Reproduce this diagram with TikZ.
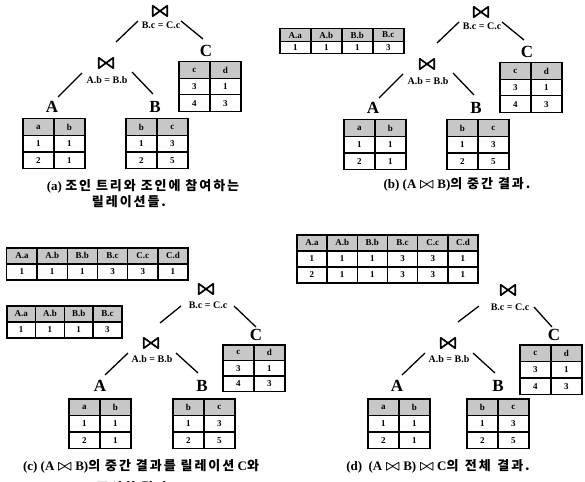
\documentclass[tikz,border=0pt]{standalone}
\usepackage{fontspec}
\setmainfont{Liberation Serif}
\newfontfamily\kr[LetterSpace=15]{Noto Sans CJK KR}
\usetikzlibrary{matrix}

\definecolor{hdr}{gray}{0.78}
% inline join symbol for the captions
\newcommand\jsym{\scalebox{1.25}{\boldmath$\bowtie$}}
% join operator drawn as a bow tie inside a named node
\newcommand\jnode[2]{%
  \node[jn] (#1) at (#2) {};
  \draw[btline] (#1.north west) -- (#1.south west) -- (#1.north east)
    -- (#1.south east) -- cycle;}

\tikzset{
  cell/.style={draw, line width=1.3pt, inner sep=0pt, anchor=center,
    font=\fontsize{9}{10}\selectfont\bfseries},
  reltab/.style 2 args={matrix of nodes, inner sep=0pt, anchor=north west,
    column sep=-1.3pt, row sep=-1.3pt,
    nodes={cell, minimum width=#1, minimum height=#2},
    row 1/.style={nodes={fill=hdr}}},
  jn/.style={inner sep=0pt, minimum width=14pt, minimum height=10pt},
  btline/.style={line width=1.7pt, line join=round},
  cond/.style={inner sep=1pt, font=\fontsize{10}{11}\selectfont\bfseries},
  rel/.style={inner sep=0pt, font=\fontsize{17}{18}\selectfont\bfseries},
  edge/.style={line width=1.3pt},
  captext/.style={inner sep=0pt, font=\fontsize{13}{14}\selectfont\bfseries},
}

\begin{document}
\begin{tikzpicture}[x=1pt, y=-1pt]
\useasboundingbox[fill=white] (0,0) rectangle (585,481);

% ---------- (a) join tree and the relations ----------
\jnode{a-j1}{160,11}
\node[cond] (a-c1) at (161,25) {B.c = C.c};
\coordinate (a-e1a) at (116,42); \coordinate (a-e1b) at (138,21);
\coordinate (a-e2a) at (181,21); \coordinate (a-e2b) at (203,39);
\draw[edge] (a-e1a) -- (a-e1b);
\draw[edge] (a-e2a) -- (a-e2b);
\node[rel] (a-C) at (206,51) {C};
\matrix[reltab={31pt}{16.5pt}] (a-tC) at (178,61) {c & d\\ 3 & 1\\ 4 & 3\\};
\jnode{a-j2}{106,63}
\node[cond] (a-c2) at (107,80) {A.b = B.b};
\coordinate (a-e3a) at (58,97); \coordinate (a-e3b) at (82,73);
\coordinate (a-e4a) at (132,72); \coordinate (a-e4b) at (153,94);
\draw[edge] (a-e3a) -- (a-e3b);
\draw[edge] (a-e4a) -- (a-e4b);
\node[rel] (a-A) at (52,107) {A};
\node[rel] (a-B) at (155,107) {B};
\matrix[reltab={31pt}{16.5pt}] (a-tA) at (22,118) {a & b\\ 1 & 1\\ 2 & 1\\};
\matrix[reltab={31pt}{16.5pt}] (a-tB) at (125,118) {b & c\\ 1 & 3\\ 2 & 5\\};
\node[captext] (a-cap1) at (143,186) {(a) {\kr 조인 트리와 조인에 참여하는}};
\node[captext] (a-cap2) at (129,202) {{\kr 릴레이션들.}};

% ---------- (b) intermediate result of A join B ----------
\begin{scope}[shift={(321,1)}]
\jnode{b-j1}{160,11}
\node[cond] (b-c1) at (161,25) {B.c = C.c};
\coordinate (b-e1a) at (116,42); \coordinate (b-e1b) at (138,21);
\coordinate (b-e2a) at (181,21); \coordinate (b-e2b) at (203,39);
\draw[edge] (b-e1a) -- (b-e1b);
\draw[edge] (b-e2a) -- (b-e2b);
\node[rel] (b-C) at (206,51) {C};
\matrix[reltab={31pt}{16.5pt}] (b-tC) at (178,61) {c & d\\ 3 & 1\\ 4 & 3\\};
\jnode{b-j2}{106,63}
\node[cond] (b-c2) at (107,80) {A.b = B.b};
\coordinate (b-e3a) at (58,97); \coordinate (b-e3b) at (82,73);
\coordinate (b-e4a) at (132,72); \coordinate (b-e4b) at (153,94);
\draw[edge] (b-e3a) -- (b-e3b);
\draw[edge] (b-e4a) -- (b-e4b);
\node[rel] (b-A) at (52,107) {A};
\node[rel] (b-B) at (155,107) {B};
\matrix[reltab={31pt}{16.5pt}] (b-tA) at (22,118) {a & b\\ 1 & 1\\ 2 & 1\\};
\matrix[reltab={31pt}{16.5pt}] (b-tB) at (125,118) {b & c\\ 1 & 3\\ 2 & 5\\};
\end{scope}
\matrix[reltab={31pt}{12.5pt}] (b-tAB) at (279,28) {A.a & A.b & B.b & B.c\\ 1 & 1 & 1 & 3\\};
\node[captext] (b-cap) at (457,184) {(b) (A \jsym\ B){\kr 의 중간 결과.}};

% ---------- (c) intermediate result joined with C ----------
\matrix[reltab={30.2pt}{16pt}] (c-tABC) at (6,247) {A.a & A.b & B.b & B.c & C.c & C.d\\ 1 & 1 & 1 & 3 & 3 & 1\\};
\matrix[reltab={28.75pt}{16pt}] (c-tAB) at (6,305) {A.a & A.b & B.b & B.c\\ 1 & 1 & 1 & 3\\};
\jnode{c-j1}{206,289}
\node[cond] (c-c1) at (208,305) {B.c = C.c};
\coordinate (c-e1a) at (160,323); \coordinate (c-e1b) at (181,306);
\coordinate (c-e2a) at (234,306); \coordinate (c-e2b) at (256,327);
\draw[edge] (c-e1a) -- (c-e1b);
\draw[edge] (c-e2a) -- (c-e2b);
\node[rel] (c-C) at (256,335) {C};
\matrix[reltab={31pt}{15.5pt}] (c-tC) at (222,344) {c & d\\ 3 & 1\\ 4 & 3\\};
\jnode{c-j2}{151,343}
\node[cond] (c-c2) at (152,359) {A.b = B.b};
\coordinate (c-e3a) at (105,375); \coordinate (c-e3b) at (128,353);
\coordinate (c-e4a) at (176,353); \coordinate (c-e4b) at (198,373);
\draw[edge] (c-e3a) -- (c-e3b);
\draw[edge] (c-e4a) -- (c-e4b);
\node[rel] (c-A) at (100,386) {A};
\node[rel] (c-B) at (202,386) {B};
\matrix[reltab={31pt}{16.5pt}] (c-tA) at (68,398) {a & b\\ 1 & 1\\ 2 & 1\\};
\matrix[reltab={31pt}{16.5pt}] (c-tB) at (172,398) {b & c\\ 1 & 3\\ 2 & 5\\};
\node[captext] (c-cap1) at (141,466)
  {(c) (A \jsym\ B){\kr 의 중간 결과를 릴레이션} C{\kr 와}};
\node[captext] (c-cap2) at (135,488) {{\kr 조인한 결과.}};

% ---------- (d) final result ----------
\matrix[reltab={30.2pt}{16pt}] (d-tABC) at (296,234) {A.a & A.b & B.b & B.c & C.c & C.d\\ 1 & 1 & 1 & 3 & 3 & 1\\ 2 & 1 & 1 & 3 & 3 & 1\\};
\jnode{d-j1}{508,290}
\node[cond] (d-c1) at (510,307) {B.c = C.c};
\coordinate (d-e1a) at (458,322); \coordinate (d-e1b) at (479,306);
\coordinate (d-e2a) at (534,307); \coordinate (d-e2b) at (552,327);
\draw[edge] (d-e1a) -- (d-e1b);
\draw[edge] (d-e2a) -- (d-e2b);
\node[rel] (d-C) at (554,335) {C};
\matrix[reltab={31pt}{16.5pt}] (d-tC) at (519,344) {c & d\\ 3 & 1\\ 4 & 3\\};
\jnode{d-j2}{448,343}
\node[cond] (d-c2) at (449,359) {A.b = B.b};
\coordinate (d-e3a) at (402,375); \coordinate (d-e3b) at (425,353);
\coordinate (d-e4a) at (473,353); \coordinate (d-e4b) at (495,373);
\draw[edge] (d-e3a) -- (d-e3b);
\draw[edge] (d-e4a) -- (d-e4b);
\node[rel] (d-A) at (397,386) {A};
\node[rel] (d-B) at (498,386) {B};
\matrix[reltab={31pt}{16.5pt}] (d-tA) at (367,398) {a & b\\ 1 & 1\\ 2 & 1\\};
\matrix[reltab={31pt}{16.5pt}] (d-tB) at (466,398) {b & c\\ 1 & 3\\ 2 & 5\\};
\node[captext] (d-cap) at (438,466)
  {(d)\enspace(A \jsym\ B) \jsym\ C{\kr 의\enspace 전체\enspace 결과.}};
\end{tikzpicture}
\end{document}
